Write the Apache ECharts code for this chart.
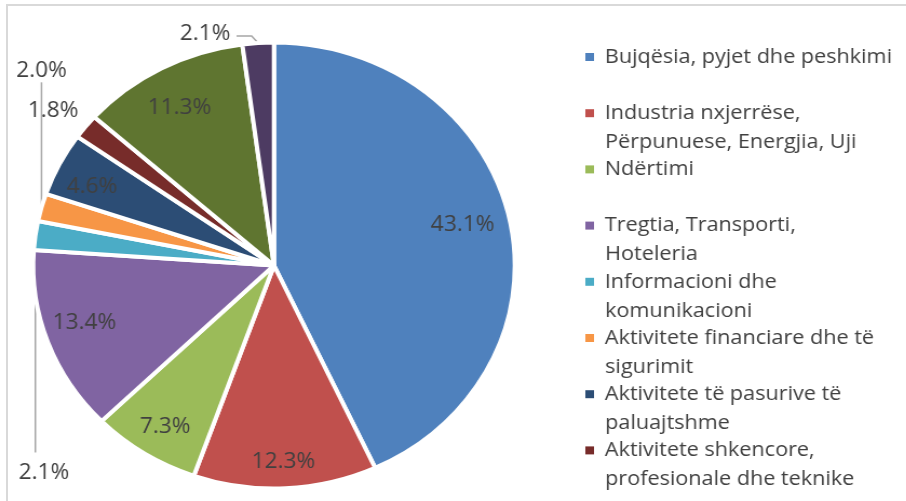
<!DOCTYPE html>
<html>
<head>
<meta charset="utf-8">
<script src="https://cdn.jsdelivr.net/npm/echarts@6/dist/echarts.min.js"></script>
<style>
  html, body { margin: 0; padding: 0; background: #fff; overflow: hidden; }
  #frame { position: absolute; left: 6px; top: 4px; width: 920px; height: 520px;
           border-left: 2px solid #d9d9d9; border-top: 2px solid #d9d9d9; }
  /* the pie is drawn slightly wider than tall */
  #chart { position: absolute; left: 0; top: 0; width: 839px; height: 501px;
           transform: scaleX(1.08); transform-origin: 0 0; }
</style>
</head>
<body>
<div id="frame"></div>
<div id="chart"></div>
<script>
// Sector names (line breaks as shown in the legend)
const sectors = [
  'Bujqësia, pyjet dhe peshkimi',
  'Industria nxjerrëse,\nPërpunuese, Energjia, Uji',
  'Ndërtimi',
  'Tregtia, Transporti,\nHoteleria',
  'Informacioni dhe\nkomunikacioni',
  'Aktivitete financiare dhe të\nsigurimit',
  'Aktivitete të pasurive të\npaluajtshme',
  'Aktivitete shkencore,\nprofesionale dhe teknike',
  'Administrata publike, Arsimi, Shëndetësia',
  'Aktivitete të tjera shërbimi'
];
// Share of each sector, percent
const shares = [43.1, 12.3, 7.3, 13.4, 2.1, 2.0, 4.6, 1.8, 11.3, 2.1];
const sliceColors = ['#4F81BD', '#C0504D', '#9BBB59', '#8064A2', '#4BACC6',
                     '#F79646', '#2C4D75', '#772C2A', '#5F7530', '#4D3B62'];
// Only the first eight sectors appear in the legend
const legendNames = sectors.slice(0, 8);

// Small slices get their label outside, moved relative to the slice's edge point
const outsideLabels = {
  4: { dx: 8,   dy: 238,  line: [[0, 0], [0, 217]] },
  5: { dx: 0,   dy: -136, line: [[0, 0], [0, -125]] },
  7: { dx: -30, dy: -16,  line: [[0, 0], [0, 0]] },
  9: { dx: -49, dy: -9,   line: [[0, 0], [-6, -7], [-20, -7]] }
};
// Small nudges for the labels inside the larger slices
const insideNudge = {
  0: [-8, 0], 1: [0, 10], 2: [0, 4], 3: [0, -7], 6: [-2, 6], 8: [0, 8]
};

const FONT = 'Open Sans';
const TEXT = '#404040';
const LINE = 29;
const center = [253.7, 265.5];
const pct = p => p.value.toFixed(1) + '%';

// Legend rows: a coloured square beside the first line, second line indented
const legendRich = {
  gap: { width: 10, height: 8, lineHeight: LINE },
  indent: { width: 18.3, height: 8, lineHeight: LINE }
};
sliceColors.forEach((c, i) => {
  legendRich['m' + i] = { width: 8, height: 8, backgroundColor: c, lineHeight: LINE };
});
function legendLabel(name) {
  const i = sectors.indexOf(name);
  const lines = name.split('\n');
  return '{m' + i + '|}{gap|}' + lines[0] + '\n{indent|}' + (lines[1] || '');
}

const chart = echarts.init(document.getElementById('chart'), null, { renderer: 'canvas' });

chart.setOption({
  animation: false,
  color: sliceColors,
  legend: {
    orient: 'vertical',
    left: 537,
    top: 42.5,
    padding: 0,
    icon: 'none',
    itemWidth: 0,
    itemHeight: 58,
    itemGap: -1.8,
    selectedMode: false,
    data: legendNames,
    formatter: legendLabel,
    textStyle: {
      fontFamily: FONT, fontSize: 20, color: TEXT,
      lineHeight: LINE, rich: legendRich
    }
  },
  series: [
    {
      // slices, with the outside labels of the small slices
      type: 'pie',
      center: center,
      radius: 223,
      startAngle: 90,
      clockwise: true,
      avoidLabelOverlap: false,
      itemStyle: { borderColor: '#fff', borderWidth: 4 },
      emphasis: { disabled: true },
      label: { fontFamily: FONT, fontSize: 21, color: TEXT, formatter: pct, position: 'outside' },
      labelLine: { lineStyle: { color: '#a6a6a6', width: 1.5 }, length: 10, length2: 10 },
      labelLayout: function (p) {
        const off = outsideLabels[p.dataIndex];
        if (!off || !p.labelLinePoints) return {};
        const a = p.labelLinePoints[0];
        return {
          x: a[0] + off.dx,
          y: a[1] + off.dy,
          align: 'center',
          verticalAlign: 'middle',
          labelLinePoints: off.line.map(d => [a[0] + d[0], a[1] + d[1]])
        };
      },
      data: sectors.map((name, i) => ({
        name: name,
        value: shares[i],
        label: { show: i in outsideLabels },
        labelLine: { show: i in outsideLabels }
      }))
    },
    {
      // transparent ring that carries the labels placed inside the larger slices
      type: 'pie',
      center: center,
      radius: [146, 222],
      startAngle: 90,
      clockwise: true,
      silent: true,
      emphasis: { disabled: true },
      itemStyle: { color: 'transparent', borderWidth: 0 },
      label: { position: 'inside', fontFamily: FONT, fontSize: 21, color: TEXT, formatter: pct },
      labelLine: { show: false },
      labelLayout: function (p) {
        const n = insideNudge[p.dataIndex];
        return n ? { dx: n[0], dy: n[1] } : {};
      },
      data: sectors.map((name, i) => ({
        name: name,
        value: shares[i],
        label: { show: !(i in outsideLabels) }
      }))
    }
  ]
});
</script>
</body>
</html>
